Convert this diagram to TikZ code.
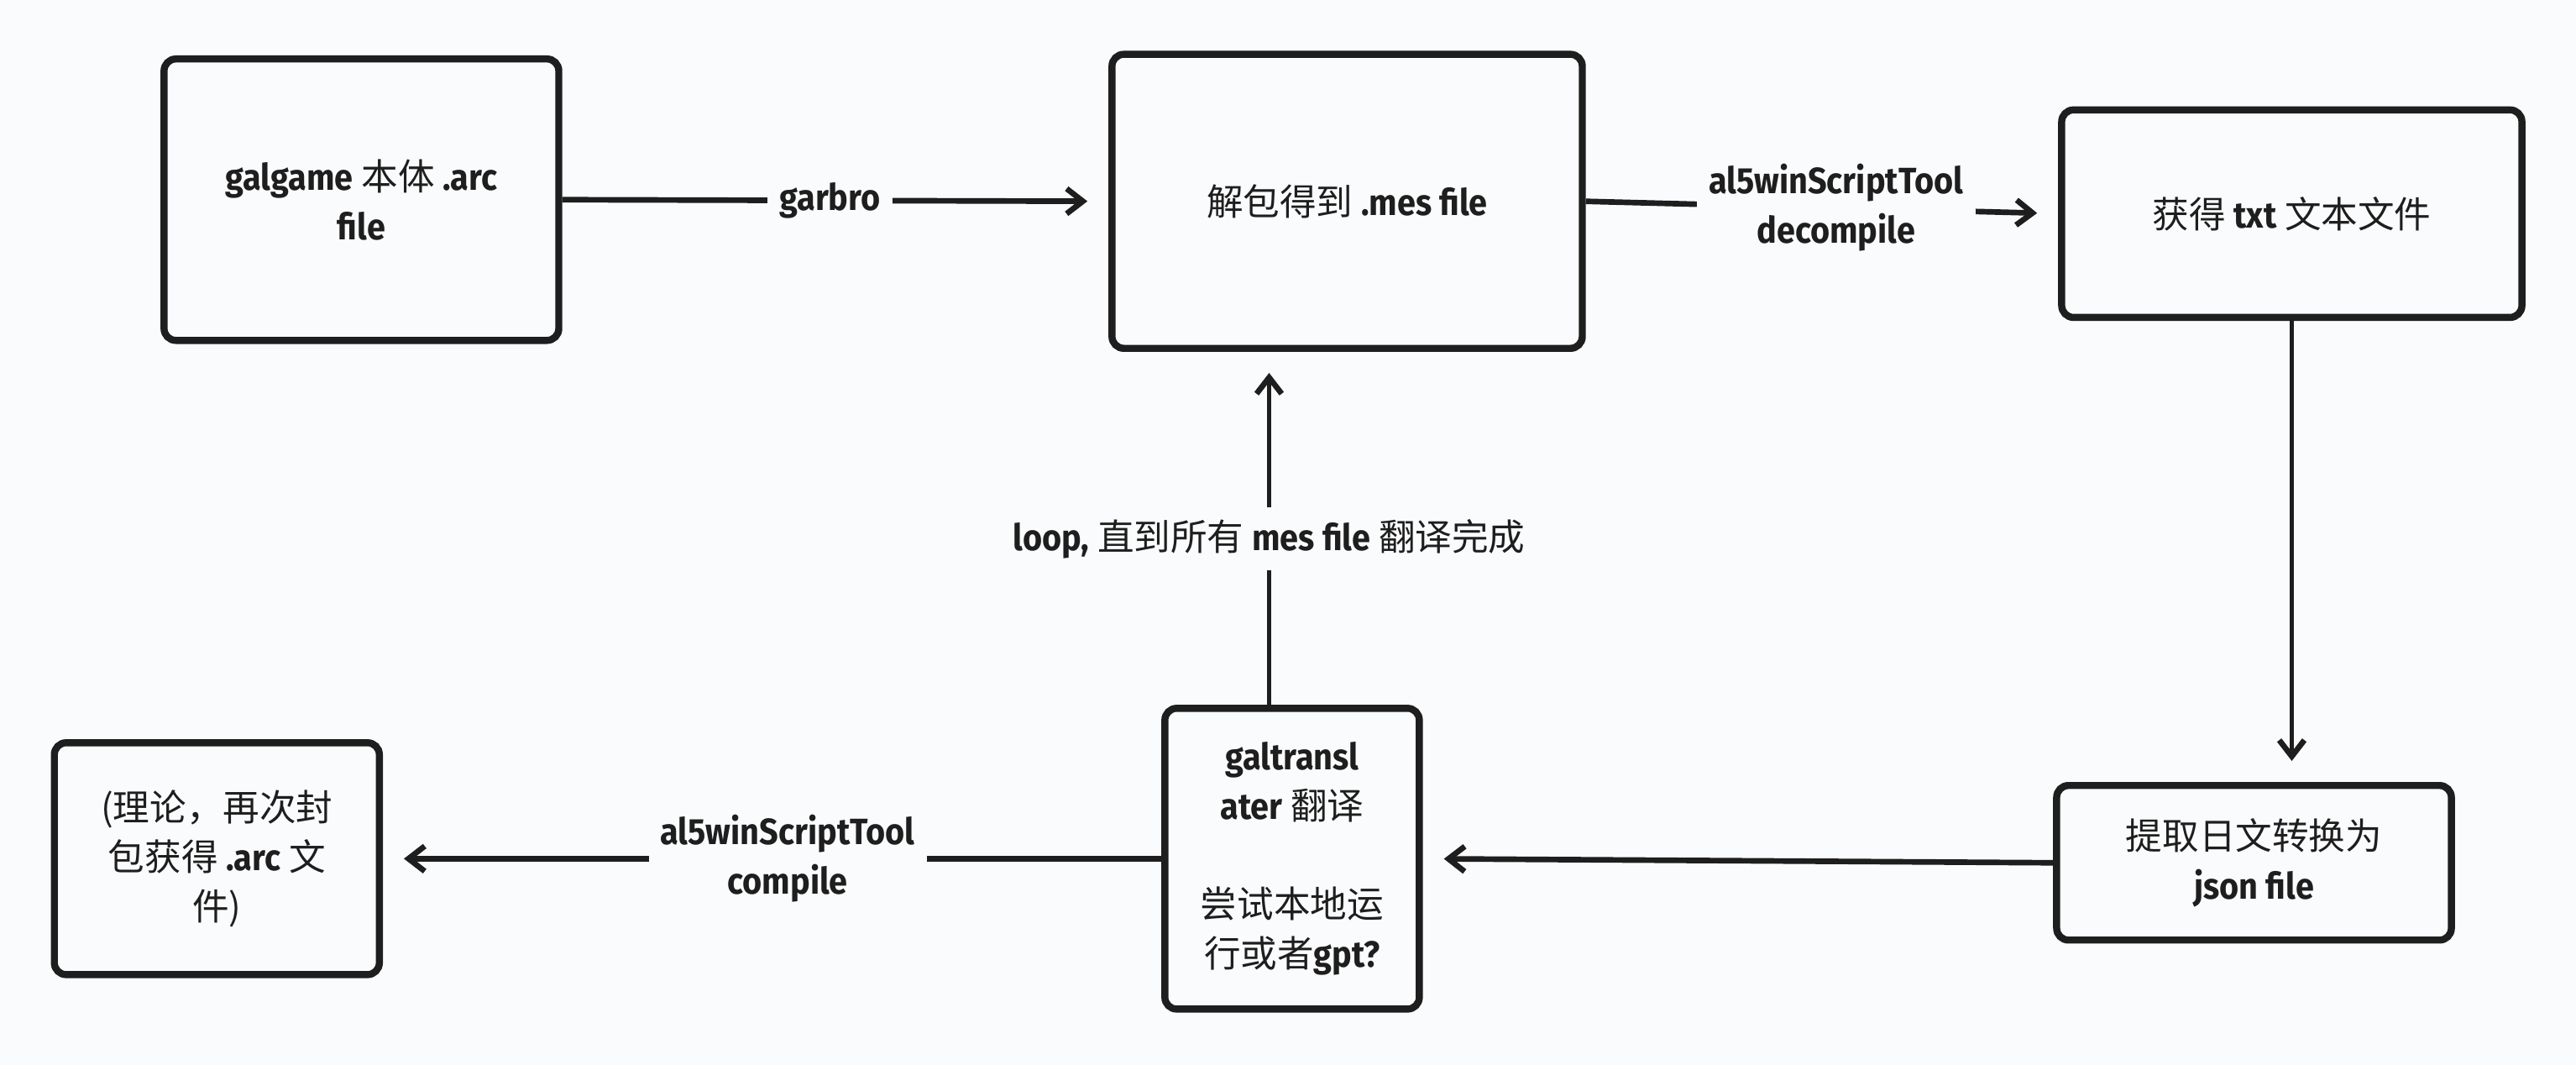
\documentclass[tikz,border=0pt]{standalone}
\usepackage{fontspec}
\setmainfont{Noto Sans CJK SC}
\newfontfamily\latfont[FakeStretch=0.91]{Fira Sans}
\newcommand{\lt}[1]{{\latfont\bfseries #1}}
\usetikzlibrary{arrows.meta,calc}
\definecolor{canvas}{RGB}{250,251,252}
\definecolor{ink}{RGB}{30,30,30}

\begin{document}
\begin{tikzpicture}[x=0.019566cm,y=-0.019566cm]
		\tikzstyle{stepbox}=[draw=ink,line width=2.4pt,rounded corners=4pt,align=center,text=ink,font=\fontsize{12.4}{16.7}\selectfont,inner sep=0pt]
		\tikzstyle{myarrow}=[draw=ink,line width=1.9pt,-{Straight Barb[length=5.5pt,width=8.5pt,line width=1.9pt]},shorten >=0.25cm]
		\tikzstyle{thinarrow}=[myarrow,line width=1.2pt]
		\tikzstyle{edgelabel}=[fill=canvas,text=ink,align=center,font=\fontsize{12.4}{16.7}\selectfont,inner sep=4pt]

		\fill[canvas] (0,0) rectangle (1568,648);
		\useasboundingbox (0,0) rectangle (1568,648);

		\foreach \x / \y / \w / \h / \n / \t in {220/121.5/4.70/3.35/b1/{\lt{galgame} 本体 \lt{.arc}\\\lt{file}},820/122.5/5.60/3.50/b2/{解包得到 \lt{.mes file}},1395/130/5.48/2.47/b3/{获得 \lt{txt} 文本文件},1372/525/4.70/1.84/b4/{提取日文转换为\\\lt{json file}},786.5/522.5/3.03/3.58/b5/{\lt{galtransl}\\\lt{ater} 翻译\\[16.7pt]尝试本地运\\行或者\lt{gpt?}},132/522.5/3.87/2.76/b6/{(理论，再次封\\包获得 \lt{.arc} 文\\件)}} { \node[stepbox,minimum width=\w cm,minimum height=\h cm] (\n) at (\x,\y) {\t};}

		\coordinate (up) at ($(b5.north)+(-14,0)$);

		\draw[myarrow] (b1.east) -- node[edgelabel,pos=0.49] {\lt{garbro}} (b2.west);
		\draw[myarrow] (b2.east) -- node[edgelabel,pos=0.53] {\lt{al5winScriptTool}\\\lt{decompile}} (b3.west);
		\draw[thinarrow] (b3.south) -- (b3.south |- b4.north);
		\draw[myarrow] (b4.west) -- (b5.east);
		\draw[thinarrow] (up) -- node[edgelabel,pos=0.47] {\lt{loop,} 直到所有 \lt{mes file} 翻译完成} (up |- b2.south);
		\draw[myarrow] (b5.west) -- node[edgelabel,pos=0.48] {\lt{al5winScriptTool}\\\lt{compile}} (b6.east);

	\end{tikzpicture}
\end{document}
